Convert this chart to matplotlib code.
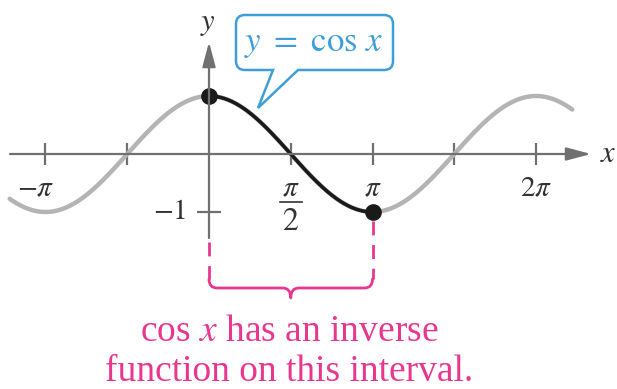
import numpy as np
import matplotlib.pyplot as plt
from matplotlib.path import Path
from matplotlib.patches import PathPatch

plt.rcParams['mathtext.fontset'] = 'stix'
plt.rcParams['font.family'] = ['Liberation Serif', 'DejaVu Serif']

# curve range and the interval where cos is one-to-one
x_start, x_end = -3.83, 6.98
interval = [0, np.pi]

x_ticks = [-np.pi, -np.pi / 2, np.pi / 2, np.pi, 3 * np.pi / 2, 2 * np.pi]
x_tick_labels = [r'$-\pi$', '', ('$\\pi$', '$2$'), r'$\pi$', '', r'$2\pi$']
y_ticks = [-1]
y_tick_labels = [r'$-1$']

GRAY = '#b4b4b4'
AXIS = '#707070'
TEXT = '#333333'
PINK = '#e8378f'
BLUE = '#3e9fd8'

W, H = 617, 389
ox, oy = 209, 154          # origin in pixels (from top-left)
sx, sy = 163.5 / np.pi, 58  # pixels per unit


def px(xp, yp):
    """pixel position (top-left origin) -> data coords"""
    return (xp - ox) / sx, (oy - yp) / sy


def ypx(yp):
    return (oy - yp) / sy


fig = plt.figure(figsize=(W / 100, H / 100), dpi=100)
ax = fig.add_axes([0, 0, 1, 1])
ax.set_xlim(-ox / sx, (W - ox) / sx)
ax.set_ylim(-(H - oy) / sy, oy / sy)
ax.axis('off')

# axes with arrow heads
arrow = dict(arrowstyle='-|>,head_length=0.75,head_width=0.2', color=AXIS,
             lw=1.6, shrinkA=0, shrinkB=0, mutation_scale=20)
ax.annotate('', xy=px(591, oy), xytext=px(10, oy), arrowprops=arrow)
ax.annotate('', xy=px(ox, 42), xytext=px(ox, 238), arrowprops=arrow)

# tick marks
th = 11 / sy
for t in x_ticks:
    ax.plot([t, t], [-th, th], color=AXIS, lw=1.6, solid_capstyle='butt')
tw = 12 / sx
for t in y_ticks:
    ax.plot([-tw, tw], [t, t], color=AXIS, lw=1.6, solid_capstyle='butt')

# tick labels
fs_tick = 21
for t, lab in zip(x_ticks, x_tick_labels):
    if not lab:
        continue
    if isinstance(lab, tuple):
        # stacked fraction: numerator, bar, denominator
        num, den = lab
        ax.text(t, ypx(196), num, ha='center', va='baseline', fontsize=fs_tick, color=TEXT)
        ax.plot([t - 11 / sx, t + 11 / sx], [ypx(202), ypx(202)], color=TEXT, lw=1.2)
        ax.text(t, ypx(230), den, ha='center', va='baseline', fontsize=fs_tick + 2, color=TEXT)
    elif t < 0:
        ax.text(t - 10 / sx, ypx(195), lab, ha='center', va='baseline',
                fontsize=fs_tick, color=TEXT)
    else:
        ax.text(t, ypx(195), lab, ha='center', va='baseline',
                fontsize=fs_tick, color=TEXT)
for t, lab in zip(y_ticks, y_tick_labels):
    ax.text(px(186, 0)[0], t, lab, ha='right', va='center',
            fontsize=fs_tick, color=TEXT)

ax.text(*px(608, 155), r'$x$', ha='center', va='center', fontsize=22, color=TEXT)
ax.text(*px(208, 24), r'$y$', ha='center', va='center', fontsize=22, color=TEXT)

# cosine curve: full in gray, restricted part in black
x = np.linspace(x_start, x_end, 600)
ax.plot(x, np.cos(x), color=GRAY, lw=3.2, solid_capstyle='round')
xr = np.linspace(interval[0], interval[1], 300)
ax.plot(xr, np.cos(xr), color='#1a1a1a', lw=2.6)
ax.plot(interval, np.cos(interval), 'o', color='#1a1a1a', ms=11)

# dashed guides down to the brace
for xi, top in zip(interval, [242, 221]):
    ax.plot([xi, xi], [ypx(top), ypx(279)], color=PINK, lw=2, dashes=(5, 3.5))

# curly brace under the interval
x0 = ox + interval[0] * sx
x1 = ox + interval[1] * sx
xm = (x0 + x1) / 2
r = 8
pts = [(x0, 279), (x0, 288), (x0 + r, 288), (xm - r, 288), (xm, 288), (xm, 298),
       (xm, 288), (xm + r, 288), (x1 - r, 288), (x1, 288), (x1, 279)]
codes = [Path.MOVETO, Path.CURVE3, Path.CURVE3, Path.LINETO, Path.CURVE3, Path.CURVE3,
         Path.CURVE3, Path.CURVE3, Path.LINETO, Path.CURVE3, Path.CURVE3]
ax.add_patch(PathPatch(Path([px(*p) for p in pts], codes), fill=False,
                       edgecolor=PINK, lw=2, capstyle='round', joinstyle='round'))

ax.text(*px(289, 341), r'cos $x$ has an inverse', ha='center', va='baseline',
        fontsize=27, color=PINK)
ax.text(*px(289, 381), 'function on this interval.', ha='center', va='baseline',
        fontsize=27, color=PINK)

# speech-bubble label
bl, br, bt, bb, cr = 236, 393, 15, 70, 9
tip = (258, 108)
bpts = [(bl + cr, bt), (br - cr, bt), (br, bt), (br, bt + cr), (br, bb - cr), (br, bb),
        (br - cr, bb), (298, bb), tip, (273, bb), (bl + cr, bb), (bl, bb), (bl, bb - cr),
        (bl, bt + cr), (bl, bt), (bl + cr, bt), (bl + cr, bt)]
bcodes = [Path.MOVETO, Path.LINETO, Path.CURVE3, Path.CURVE3, Path.LINETO, Path.CURVE3,
          Path.CURVE3, Path.LINETO, Path.LINETO, Path.LINETO, Path.LINETO, Path.CURVE3,
          Path.CURVE3, Path.LINETO, Path.CURVE3, Path.CURVE3, Path.CLOSEPOLY]
ax.add_patch(PathPatch(Path([px(*p) for p in bpts], bcodes), facecolor='white',
                       edgecolor=BLUE, lw=1.8, zorder=5))
ax.text(*px(314, 43), r'$y\ =\ \mathrm{cos}\ x$', ha='center', va='center', fontsize=25,
        color=BLUE, zorder=6)

fig.savefig('out.png', dpi=100)
